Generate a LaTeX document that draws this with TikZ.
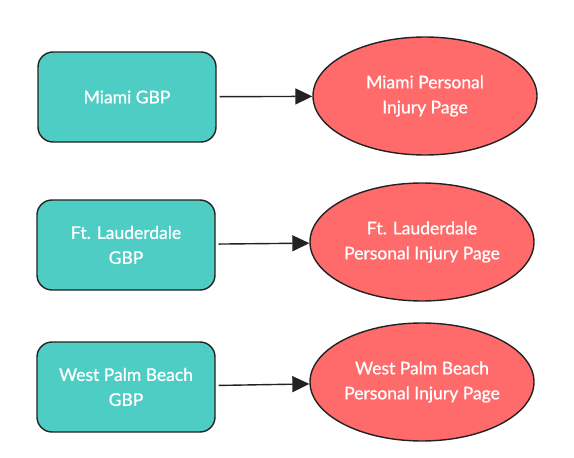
\documentclass[tikz,border=0pt]{standalone}
\usepackage{fontspec}
\setmainfont{Lato}[FakeBold=0.8]
\usetikzlibrary{shapes.geometric,arrows.meta}
\definecolor{gbpteal}{HTML}{4ECDC4}
\definecolor{pagered}{HTML}{FF6B6B}
\definecolor{edge}{HTML}{222222}
\begin{document}
\begin{tikzpicture}[x=1pt,y=-1pt,gb/.style={draw=edge,line width=1.4pt,fill=gbpteal,rounded corners=15pt,minimum width=178pt,minimum height=90pt,text=white,align=center,font=\fontsize{17.5}{25}\selectfont},pg/.style={draw=edge,line width=1.4pt,fill=pagered,ellipse,minimum width=224pt,minimum height=118pt,inner sep=0pt,text=white,align=center,font=\fontsize{17.5}{25}\selectfont},link/.style={draw=edge,line width=1.4pt,-{Triangle[length=17pt,width=16pt]},shorten <=3pt}]
\useasboundingbox (0,0) rectangle (574,458);
\node[gb] (miami) at (127,97) {Miami GBP};
\node[gb] (ftl) at (126,245) {Ft. Lauderdale\\GBP};
\node[gb] (wpb) at (126,387) {West Palm Beach\\GBP};

\node[pg] (miamipage) at (425,96) {Miami Personal\\Injury Page};
\node[pg] (ftlpage) at (422,242) {Ft. Lauderdale\\Personal Injury Page};
\node[pg] (wpbpage) at (422,382) {West Palm Beach\\Personal Injury Page};

\draw[link] (miami) -- (miamipage);
\draw[link] (ftl) -- (ftlpage);
\draw[link] (wpb) -- (wpbpage);
\end{tikzpicture}
\end{document}
